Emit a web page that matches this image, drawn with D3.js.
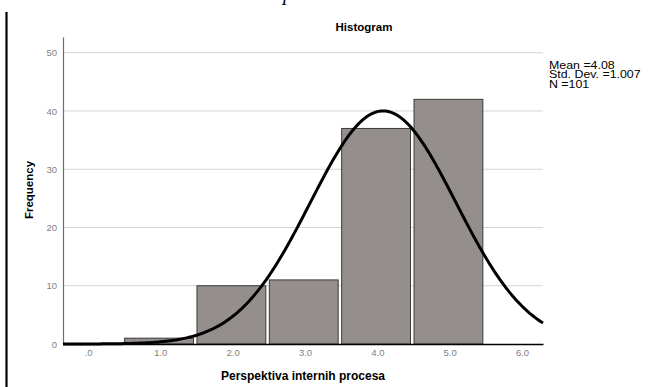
<!DOCTYPE html>
<html>
<head>
<meta charset="utf-8">
<script src="https://cdn.jsdelivr.net/npm/d3@7"></script>
<style>
  html, body { margin: 0; padding: 0; background: #fff; }
  svg { display: block; font-family: "Liberation Sans", Arial, sans-serif; }
</style>
</head>
<body>
<svg id="chart" width="666" height="387"></svg>
<script>
// Histogram of "Perspektiva internih procesa" with a fitted normal curve
const binCenters = [0, 1, 2, 3, 4, 5];
const frequencies = [0, 1, 10, 11, 37, 42];
const xTickValues = [0, 1, 2, 3, 4, 5, 6];
const xTickLabels = [".0", "1.0", "2.0", "3.0", "4.0", "5.0", "6.0"];
const yTickValues = [0, 10, 20, 30, 40, 50];
const stats = { mean: 4.08, sd: 1.007, n: 101 };
const statLines = ["Mean =4.08", "Std. Dev. =1.007", "N =101"];
const binWidth = 1;

const svg = d3.select("#chart");

const x = d3.scaleLinear().domain([-0.345, 6.29]).range([63, 543]);
const y = d3.scaleLinear().domain([0, 52.7]).range([344, 37]);

// page margin rule on the left
svg.append("line")
  .attr("x1", 6.5).attr("x2", 6.5).attr("y1", 12).attr("y2", 387)
  .attr("stroke", "#000").attr("stroke-width", 2.2);

// descender of a heading cut off at the top of the page
svg.append("text")
  .attr("x", 283).attr("y", 0)
  .attr("font-family", "'Liberation Serif', 'Times New Roman', serif")
  .attr("font-style", "italic").attr("font-size", 20)
  .text("p");

// gridlines
svg.append("g").selectAll("line")
  .data(yTickValues.filter(d => d > 0))
  .join("line")
  .attr("x1", x.range()[0]).attr("x2", x.range()[1])
  .attr("y1", d => y(d)).attr("y2", d => y(d))
  .attr("stroke", "#d4d4d4").attr("stroke-width", 1);

// bars
svg.append("g").selectAll("rect")
  .data(binCenters.map((c, i) => ({ c, f: frequencies[i] })).filter(d => d.f > 0))
  .join("rect")
  .attr("x", d => x(d.c - binWidth / 2) + 0.5)
  .attr("y", d => y(d.f))
  .attr("width", d => x(d.c + binWidth / 2) - x(d.c - binWidth / 2) - 3.5)
  .attr("height", d => y(0) - y(d.f))
  .attr("fill", "#948f8d")
  .attr("stroke", "#3a3a3a").attr("stroke-width", 1);

// y axis
const yAxis = svg.append("g").attr("transform", `translate(${x.range()[0]},0)`)
  .call(d3.axisLeft(y).tickValues(yTickValues).tickSize(0).tickPadding(6).tickFormat(d3.format("d")));
yAxis.select(".domain").attr("stroke", "#6e6e6e").attr("stroke-width", 1.2);
yAxis.selectAll("text").attr("fill", "#808080").attr("font-size", 9.5)
  .attr("font-family", "'Liberation Sans', Arial, sans-serif");

// x axis
const xAxis = svg.append("g").attr("transform", `translate(0,${y(0)})`)
  .call(d3.axisBottom(x).tickValues(xTickValues).tickSize(0).tickPadding(5)
    .tickFormat((d, i) => xTickLabels[i]));
xAxis.select(".domain").attr("stroke", "#000").attr("stroke-width", 1.5);
xAxis.selectAll("text").attr("fill", "#808080").attr("font-size", 9.5)
  .attr("font-family", "'Liberation Sans', Arial, sans-serif");

// normal curve scaled to counts
const pdf = v => stats.n * binWidth / (stats.sd * Math.sqrt(2 * Math.PI)) *
  Math.exp(-0.5 * Math.pow((v - stats.mean) / stats.sd, 2));
const curvePts = d3.range(0, 401).map(i => {
  const v = x.domain()[0] + (x.domain()[1] - x.domain()[0]) * i / 400;
  return [v, pdf(v)];
});
svg.append("path")
  .datum(curvePts)
  .attr("d", d3.line().x(d => x(d[0])).y(d => y(d[1])))
  .attr("fill", "none").attr("stroke", "#000").attr("stroke-width", 3)
  .attr("stroke-linejoin", "round");

// titles
svg.append("text").attr("x", 364).attr("y", 31)
  .attr("text-anchor", "middle").attr("font-weight", "bold").attr("font-size", 11.5)
  .text("Histogram");
svg.append("text").attr("x", 303).attr("y", 380)
  .attr("text-anchor", "middle").attr("font-weight", "bold").attr("font-size", 12)
  .text("Perspektiva internih procesa");
svg.append("text")
  .attr("transform", "translate(33,190) rotate(-90)")
  .attr("text-anchor", "middle").attr("font-weight", "bold").attr("font-size", 11.5)
  .text("Frequency");

// summary statistics, set in a horizontally widened face
svg.append("g")
  .attr("transform", "translate(549,0) scale(1.18,1)")
  .selectAll("text")
  .data(statLines)
  .join("text")
  .attr("x", 0).attr("y", (d, i) => 69 + i * 9.5)
  .attr("font-size", 10.5).attr("fill", "#000")
  .text(d => d);
</script>
</body>
</html>
